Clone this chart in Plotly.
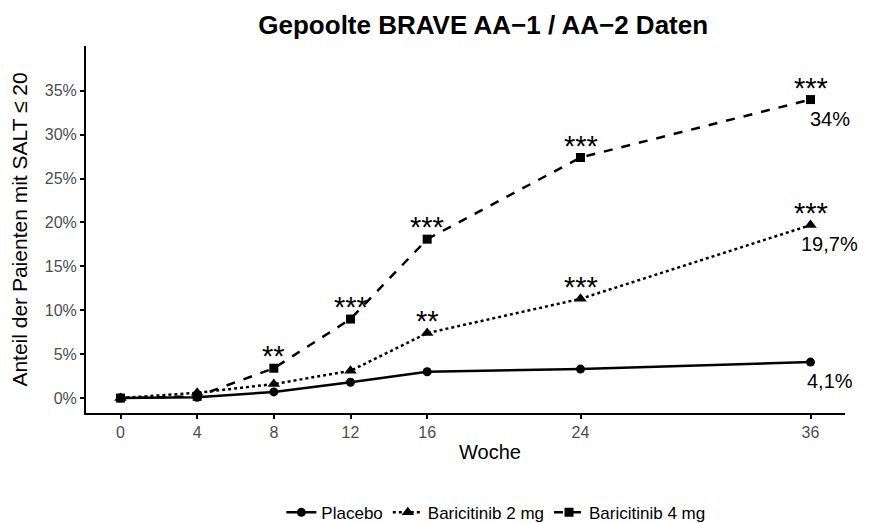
import plotly.graph_objects as go

weeks = [0, 4, 8, 12, 16, 24, 36]
placebo = [0.0, 0.1, 0.7, 1.8, 3.0, 3.3, 4.1]
bari2 = [0.0, 0.6, 1.6, 3.1, 7.4, 11.3, 19.7]
bari4 = [0.0, 0.2, 3.4, 9.0, 18.1, 27.4, 34.0]
stars2 = ["", "", "", "", "**", "***", "***"]
stars4 = ["", "", "**", "***", "***", "***", "***"]
end_labels = ["4,1%", "19,7%", "34%"]
y_ticks = [0, 5, 10, 15, 20, 25, 30, 35]

FONT = "Arial, Liberation Sans, sans-serif"

fig = go.Figure()
series = [
    ("Placebo", placebo, "solid", "circle", 9),
    ("Baricitinib 2 mg", bari2, "dot", "triangle-up", 11),
    ("Baricitinib 4 mg", bari4, "dash", "square", 9),
]
for name, vals, dash, sym, msize in series:
    fig.add_trace(go.Scatter(
        x=weeks, y=vals, name=name, mode="lines+markers",
        line=dict(color="black", width=2.5, dash=dash),
        marker=dict(symbol=sym, size=msize, color="black"),
    ))

for vals, stars in [(bari2, stars2), (bari4, stars4)]:
    for xv, yv, s in zip(weeks, vals, stars):
        if s:
            fig.add_annotation(x=xv, y=yv, text=s, showarrow=False,
                               yanchor="middle", yshift=12,
                               font=dict(family=FONT, size=29, color="black"))

for vals, lab in zip([placebo, bari2, bari4], end_labels):
    fig.add_annotation(x=weeks[-1], y=vals[-1], text=lab, showarrow=False,
                       xanchor="center", yanchor="middle", xshift=19, yshift=-19,
                       font=dict(family=FONT, size=20, color="black"))

fig.add_annotation(x=0.532, y=0, xref="paper", yref="paper", text="Woche",
                   showarrow=False, xanchor="center", yanchor="middle", yshift=-39,
                   font=dict(family=FONT, size=20, color="black"))

fig.update_layout(
    width=864, height=515,
    paper_bgcolor="white", plot_bgcolor="white",
    margin=dict(l=78, r=27, t=38, b=110, autoexpand=False),
    font=dict(family=FONT, color="black"),
    title=dict(text="Gepoolte BRAVE AA\u22121 / AA\u22122 Daten",
               x=0.55, xanchor="center", y=0.968, yanchor="middle",
               font=dict(family=FONT, size=26, color="black", weight="bold")),
    showlegend=True,
    legend=dict(orientation="h", x=0.54, xanchor="center", y=-0.272, yanchor="middle",
                font=dict(family=FONT, size=17, color="black"),
                itemwidth=30),
)
fig.update_xaxes(
    range=[-1.8, 37.8], tickvals=weeks, ticktext=[str(w) for w in weeks],
    showline=True, linecolor="black", linewidth=2, ticks="outside",
    ticklen=4, tickwidth=1.5, tickcolor="black", showgrid=False, zeroline=False,
    tickfont=dict(family=FONT, size=16, color="#4d4d4d"),
)
fig.update_yaxes(
    range=[-1.7, 40.1], tickvals=y_ticks, ticktext=[f"{v}%" for v in y_ticks],
    showline=True, linecolor="black", linewidth=2, ticks="outside",
    ticklen=4, tickwidth=1.5, tickcolor="black", showgrid=False, zeroline=False,
    tickfont=dict(family=FONT, size=16, color="#4d4d4d"),
    title=dict(text="Anteil der Paienten mit SALT \u2264 20", font=dict(family=FONT, size=21, color="black"), standoff=13),
)

fig.write_html("out.html")
